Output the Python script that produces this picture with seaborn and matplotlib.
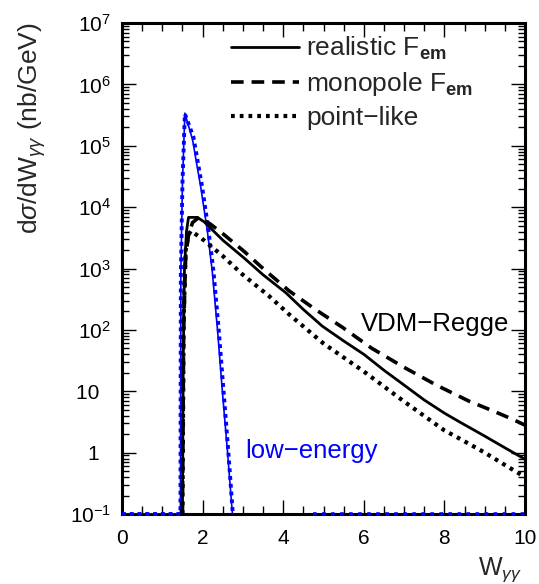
import matplotlib
matplotlib.use("Agg")
import matplotlib.pyplot as plt
import matplotlib.ticker as mticker
import seaborn as sns
import numpy as np

sns.set_theme(style="ticks")
plt.rcParams['font.family'] = ['Liberation Sans', 'DejaVu Sans']
plt.rcParams['mathtext.fontset'] = 'custom'
plt.rcParams['mathtext.rm'] = 'Liberation Sans'
plt.rcParams['mathtext.it'] = 'Liberation Sans:italic'
plt.rcParams['mathtext.bf'] = 'Liberation Sans:bold'

# VDM-Regge, realistic form factor
w_real = [1.50, 1.52, 1.55, 1.60, 1.65, 1.87, 2.04, 2.5, 3.03, 3.5, 4.07, 4.5, 4.97,
          5.5, 6.0, 6.5, 7.0, 7.5, 8.0, 8.4, 9.0, 9.5, 10.0]
xs_real = [0.1, 32, 1000, 4000, 6800, 6800, 5750, 2900, 1480, 790, 400, 215, 115,
           66, 40, 22, 12.6, 7.2, 4.4, 3.1, 1.86, 1.2, 0.78]

# VDM-Regge, monopole form factor
w_mono = [1.50, 1.53, 1.58, 1.65, 1.75, 1.92, 2.2, 2.5, 3.03, 3.5, 4.15, 4.8, 5.47,
          6.2, 7.0, 7.8, 8.61, 9.2, 9.69, 10.0]
xs_mono = [0.1, 100, 1600, 3500, 5600, 6900, 5250, 3700, 1900, 1000, 430, 215, 110,
           50, 24.5, 12.6, 6.9, 4.8, 3.5, 2.8]

# VDM-Regge, point-like
w_point = [1.50, 1.53, 1.58, 1.65, 1.71, 1.96, 2.5, 2.99, 3.65, 4.15, 5.0, 6.0, 7.0,
           8.0, 8.4, 9.0, 9.5, 10.0]
xs_point = [0.1, 160, 2000, 3550, 4100, 3150, 1600, 800, 355, 178, 60, 21, 6.8,
            2.3, 1.66, 1.0, 0.63, 0.40]

# low-energy region (blue)
w_low = [0.0, 1.45, 1.46, 1.50, 1.56, 1.75, 1.96, 2.12, 2.24, 2.37, 2.49, 2.62, 2.74]
xs_low = [0.1, 0.1, 800, 25000, 340000, 126000, 20000, 4000, 900, 100, 10, 1.0, 0.1]
w_low2 = [0.0, 1.45, 1.46, 1.50, 1.56, 1.77, 1.98, 2.14, 2.27, 2.40, 2.52, 2.64, 2.75]
xs_low2 = [0.1, 0.1, 800, 25000, 330000, 140000, 23000, 4500, 900, 100, 10, 1.0, 0.1]
w_low_tail = [4.75, 10.0]
xs_low_tail = [0.1, 0.1]

ytick_vals = [1e-1, 1, 10, 1e2, 1e3, 1e4, 1e5, 1e6, 1e7]
ytick_labels = [r"$10^{-1}$", "1  ", "10  ", r"$10^{2}$", r"$10^{3}$", r"$10^{4}$",
                r"$10^{5}$", r"$10^{6}$", r"$10^{7}$"]

fig = plt.figure(figsize=(5.39, 5.84), dpi=100)
ax = fig.add_axes([122 / 539, 1 - 514 / 584, 403 / 539, 491 / 584])

blue = "#0000ff"
sns.lineplot(x=w_low, y=xs_low, ax=ax, color=blue, lw=1.2, estimator=None, sort=False, zorder=4)
sns.lineplot(x=w_low2, y=xs_low2, ax=ax, color=blue, lw=2.8, linestyle=(0, (1, 1)),
             estimator=None, sort=False, zorder=4, clip_on=False)
sns.lineplot(x=w_low_tail, y=xs_low_tail, ax=ax, color=blue, lw=2.6, linestyle=(0, (1, 1.5)),
             estimator=None, sort=False, zorder=4, clip_on=False)

sns.lineplot(x=w_real, y=xs_real, ax=ax, color="black", lw=2.0, estimator=None, sort=False,
             label=r"realistic F$_{\mathbf{em}}$", zorder=5)
sns.lineplot(x=w_mono, y=xs_mono, ax=ax, color="black", lw=2.6, linestyle=(0, (3.5, 2.2)),
             estimator=None, sort=False, label=r"monopole F$_{\mathbf{em}}$", zorder=5)
sns.lineplot(x=w_point, y=xs_point, ax=ax, color="black", lw=3.0, linestyle=(0, (0.9, 1.2)),
             estimator=None, sort=False, label="point\u2212like", zorder=5)

ax.set_yscale("log")
ax.set_xlim(0, 10)
ax.set_ylim(0.1, 1e7)
ax.yaxis.set_major_locator(mticker.FixedLocator(ytick_vals))
ax.yaxis.set_major_formatter(mticker.FixedFormatter(ytick_labels))
ax.yaxis.set_minor_locator(mticker.LogLocator(base=10, subs=np.arange(2, 10), numticks=20))
ax.yaxis.set_minor_formatter(mticker.NullFormatter())
ax.xaxis.set_major_locator(mticker.MultipleLocator(2))
ax.xaxis.set_minor_locator(mticker.MultipleLocator(0.5))

ax.tick_params(which="both", direction="in", top=True, right=True, colors="black")
ax.tick_params(which="major", length=10, width=1.0, labelsize=15)
ax.tick_params(which="minor", length=5, width=1.0)
ax.tick_params(axis="x", which="minor", length=6)
ax.tick_params(axis="x", pad=11)
ax.tick_params(axis="y", pad=8)
for s in ax.spines.values():
    s.set_linewidth(2.2)
    s.set_color("black")
ax.grid(False)
ax.set_xlabel("")
ax.set_ylabel("")

ax.legend(loc="upper left", bbox_to_anchor=(0.27, 0.975), frameon=False, fontsize=19,
          handlelength=2.6, handletextpad=0.25, labelspacing=0.3, borderpad=0, borderaxespad=0)

ax.text(5.93, 123, "VDM\u2212Regge", fontsize=18.5, ha="left", va="center", color="black")
ax.text(3.06, 1.05, "low\u2212energy", fontsize=18.5, ha="left", va="center", color=blue)

fig.text(32 / 539, 1 - 22 / 584, r"d$\sigma$/dW$_{\gamma\gamma}$ (nb/GeV)", rotation=90,
         ha="center", va="top", fontsize=19)
fig.text(522 / 539, 1 - 570 / 584, r"W$_{\gamma\gamma}$", ha="right", va="center", fontsize=18)

fig.savefig("out.png", dpi=100)
